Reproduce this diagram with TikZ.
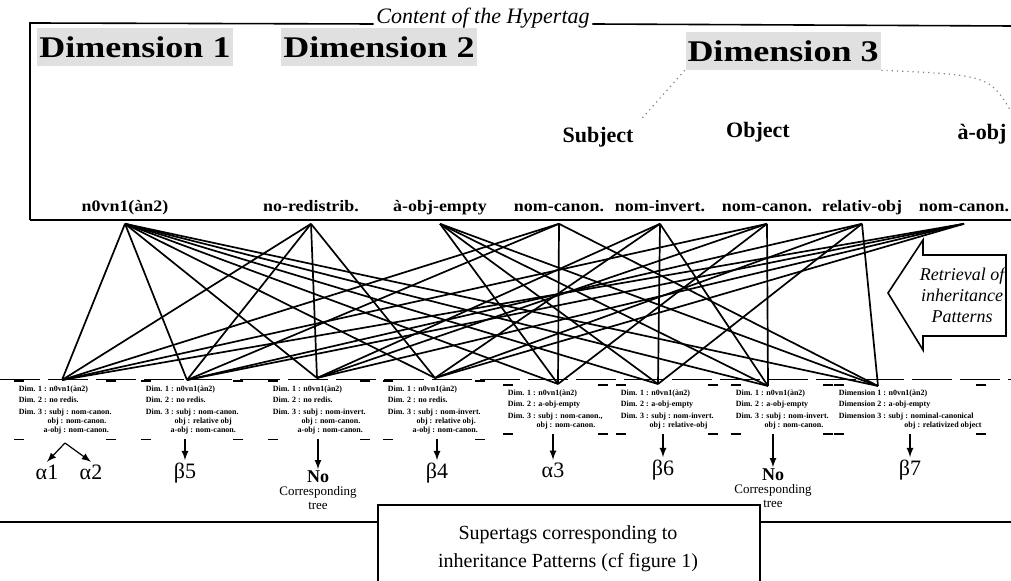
\documentclass[tikz,border=0pt]{standalone}
\usepackage{fontspec}
\setmainfont{Liberation Serif}
\newfontfamily\widefont[FakeStretch=1.2]{Liberation Serif}
\newfontfamily\labfont[FakeStretch=1.12]{Liberation Serif}
\usepackage{tikz}
\usetikzlibrary{arrows,positioning}

\begin{document}
\begin{tikzpicture}[x=0.5pt,y=-0.5pt,line width=0.8pt,
    dim/.style={font=\widefont\fontsize{15}{17}\selectfont\bfseries,fill=black!12,inner xsep=1pt,inner ysep=4pt},
    head/.style={font=\fontsize{11}{12}\selectfont\bfseries},
    lab/.style={font=\labfont\fontsize{8}{9}\selectfont\bfseries,anchor=base,inner sep=0pt,text depth=5.5pt},
    patt/.style={font=\fontsize{4}{4.7}\selectfont\bfseries,align=left,anchor=north west,inner sep=2pt},
    tree/.style={font=\fontsize{11}{12}\selectfont,inner sep=1pt},
    nocorr/.style={font=\fontsize{9}{10}\selectfont\bfseries,inner sep=0.5pt},
    corr/.style={font=\fontsize{6.5}{7}\selectfont,inner sep=0.5pt},
    lnk/.style={line width=0.85pt},
    res/.style={-latex,line width=0.6pt},
    faint/.style={gray,dotted,line width=0.6pt}]
  \useasboundingbox (0,0) rectangle (1011,581);

  % content of the hypertag
  \node[font=\fontsize{11}{12}\selectfont\itshape,anchor=base,inner sep=1pt] (ttl) at (483,24) {Content of the Hypertag};
  \draw (30,220) -- (30,23) -- (ttl.base west);
  \draw (ttl.base east) -- (1011,26);
  \draw (30,220) -- (1011,220);

  \node[dim] (dim1) at (135,47) {Dimension 1};
  \node[dim] (dim2) at (379,47) {Dimension 2};
  \node[dim] (dim3) at (783,51) {Dimension 3};

  \node[head] (subj) at (598,137) {Subject};
  \node[head] (obj) at (758,132) {Object};
  \node[head] (aobj) at (982,134) {à-obj};
  \draw[faint] (dim3.south west) -- (subj.north east);
  \draw[faint] (dim3.south east) .. controls (990,75) .. (aobj.north east);

  \node[lab] (n0) at (125,212) {n0vn1(àn2)};
  \node[lab] (nored) at (311,212) {no-redistrib.};
  \node[lab] (aempty) at (440,212) {à-obj-empty};
  \node[lab] (scanon) at (559,212) {nom-canon.};
  \node[lab] (sinvert) at (660,212) {nom-invert.};
  \node[lab] (ocanon) at (767,212) {nom-canon.};
  \node[lab] (orel) at (862,212) {relativ-obj};
  \node[lab] (acanon) at (964,212) {nom-canon.};

  % inheritance patterns
  \node[patt] (p1) at (14,381) {Dim. 1 : n0vn1(àn2)\\[1pt] Dim. 2 : no redis.\\[1pt] Dim. 3 : subj : nom-canon.\\ \hspace*{3.6em}obj : nom-canon.\\ \hspace*{3.1em}a-obj : nom-canon.};
  \node[patt] (p2) at (141,381) {Dim. 1 : n0vn1(àn2)\\[1pt] Dim. 2 : no redis.\\[1pt] Dim. 3 : subj : nom-canon.\\ \hspace*{3.6em}obj : relative obj\\ \hspace*{3.1em}a-obj : nom-canon.};
  \node[patt] (p3) at (268,381) {Dim. 1 : n0vn1(àn2)\\[1pt] Dim. 2 : no redis.\\[1pt] Dim. 3 : subj : nom-invert.\\ \hspace*{3.6em}obj : nom-canon.\\ \hspace*{3.1em}a-obj : nom-canon.};
  \node[patt] (p4) at (383,381) {Dim. 1 : n0vn1(àn2)\\[1pt] Dim. 2 : no redis.\\[1pt] Dim. 3 : subj : nom-invert.\\ \hspace*{3.6em}obj : relative obj.\\ \hspace*{3.1em}a-obj : nom-canon.};
  \node[patt] (p5) at (503,385) {Dim. 1 : n0vn1(àn2)\\[1pt] Dim. 2 : a-obj-empty\\[1pt] Dim. 3 : subj : nom-canon.,\\ \hspace*{3.6em}obj : nom-canon.};
  \node[patt] (p6) at (616,385) {Dim. 1 : n0vn1(àn2)\\[1pt] Dim. 2 : a-obj-empty\\[1pt] Dim. 3 : subj : nom-invert.\\ \hspace*{3.6em}obj : relative-obj};
  \node[patt] (p7) at (731,385) {Dim. 1 : n0vn1(àn2)\\[1pt] Dim. 2 : a-obj-empty\\[1pt] Dim. 3 : subj : nom-invert.\\ \hspace*{3.6em}obj : nom-canon.};
  \node[patt] (p8) at (834,385) {Dimension 1 : n0vn1(àn2)\\[1pt] Dimension 2 : a-obj-empty\\[1pt] Dimension 3 : subj : nominal-canonical\\ \hspace*{8.2em}obj : relativized object};
  \draw[line width=0.4pt,dash pattern=on 20pt off 4pt] (0,379) -- (1011,379);
  \foreach \b in {p1,p2,p3,p4,p5,p6,p7,p8}
    \draw[line width=0.6pt] (\b.south west) -- ++(10,0) (\b.south east) -- ++(-10,0)
      (\b.north west) -- ++(10,0) (\b.north east) -- ++(-10,0);

  \coordinate (c1) at (62,380);
  \coordinate (c2) at (187,380);
  \coordinate (c3) at (317,378);
  \coordinate (c4) at (435,378);
  \coordinate (c5) at (558,384);
  \coordinate (c6) at (658,384);
  \coordinate (c7) at (768,386);
  \coordinate (c8) at (878,386);

  \path[lnk]
    (n0.south) edge (c1) edge (c2) edge (c3) edge (c4)
               edge (c5) edge (c6) edge (c7) edge (c8)
    (nored.south) edge (c1) edge (c2) edge (c3) edge (c4)
    (aempty.south) edge (c5) edge (c6) edge (c7) edge (c8)
    (scanon.south) edge (c1) edge (c2) edge (c5) edge (c8)
    (sinvert.south) edge (c3) edge (c4) edge (c6) edge (c7)
    (ocanon.south) edge (c1) edge (c3) edge (c5) edge (c7)
    (orel.south) edge (c2) edge (c4) edge (c6) edge (c8)
    (acanon.south) edge (c1) edge (c2) edge (c3) edge (c4);

  % retrieval arrow
  \draw (888,293) -- (923,240) -- (923,255) -- (1006,255) -- (1006,336)
    -- (923,336) -- (923,350) -- cycle;
  \node[font=\fontsize{9}{10.5}\selectfont\itshape,align=center] (retr) at (962,295) {Retrieval of\\inheritance\\Patterns};

  % supertags
  \node[tree] (al1) at (47,472) {α1};
  \node[tree] (al2) at (91,472) {α2};
  \node[tree] (b5) at (185,473) {β5};
  \node[nocorr] (no1) at (318,477) {No};
  \node[corr,below=0pt of no1] (co1) {Corresponding};
  \node[corr,below=0pt of co1] (tr1) {tree};
  \node[tree] (b4) at (437,473) {β4};
  \node[tree] (al3) at (553,470) {α3};
  \node[tree] (b6) at (663,470) {β6};
  \node[nocorr] (no2) at (773,475) {No};
  \node[corr,below=0pt of no2] (co2) {Corresponding};
  \node[corr,below=0pt of co2] (tr2) {tree};
  \node[tree] (b7) at (910,470) {β7};

  \coordinate (k1) at (65,443);
  \draw[res] (k1) -- (al1.north);
  \draw[res] (k1) -- (al2.north);
  \draw[res] (p2.south -| b5) -- (b5.north);
  \draw[res] (p3.south -| no1) -- (no1.north);
  \draw[res] (p4.south -| b4) -- (b4.north);
  \draw[res] (p5.south -| al3) -- (al3.north);
  \draw[res] (p6.south -| b6) -- (b6.north);
  \draw[res] (p7.south -| no2) -- (no2.north);
  \draw[res] (p8.south -| b7) -- (b7.north);

  % caption box
  \draw (0,522) -- (378,522);
  \draw (378,581) -- (378,505) -- (760,505) -- (760,581);
  \draw (760,522) -- (1011,522);
  \node[font=\fontsize{10}{14}\selectfont,align=center] (capt) at (568,549) {Supertags corresponding to\\inheritance Patterns (cf figure 1)};
\end{tikzpicture}
\end{document}
